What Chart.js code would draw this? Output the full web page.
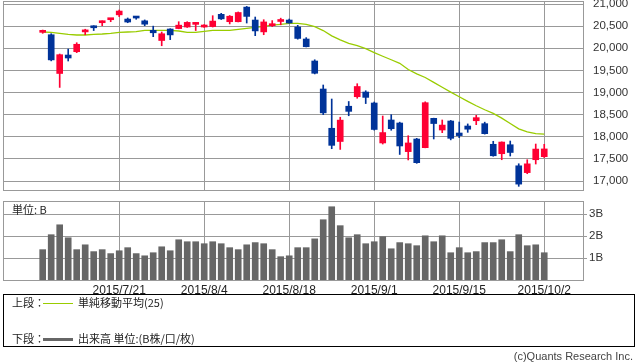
<!DOCTYPE html>
<html>
<head>
<meta charset="utf-8">
<script src="https://cdn.jsdelivr.net/npm/chart.js@4.4.0/dist/chart.umd.min.js"></script>
<style>
body{margin:0;width:638px;height:362px;position:relative;background:#fff;overflow:hidden;font-family:"Noto Sans CJK JP",sans-serif}
canvas{position:absolute;left:0}
#top{top:0}
#bot{top:195px}
.t{position:absolute;font-size:11px;color:#222;white-space:nowrap;line-height:11px}
#legend{position:absolute;left:3px;top:294px;width:632px;height:53px;border:1px solid #000;box-sizing:border-box}
</style>
</head>
<body>
<canvas id="top" width="638" height="195" style="width:638px;height:195px"></canvas>
<canvas id="bot" width="638" height="100" style="width:638px;height:100px"></canvas>
<div class="t" style="left:12px;top:204px">単位: B</div>
<div id="legend"></div>
<div class="t" style="left:12px;top:297px">上段：</div>
<div style="position:absolute;left:43px;top:303px;width:30px;height:1px;background:#9c0"></div>
<div class="t" style="left:78px;top:297px">単純移動平均(25)</div>
<div class="t" style="left:12px;top:333px">下段：</div>
<div style="position:absolute;left:43px;top:338px;width:30px;height:3px;background:#666"></div>
<div class="t" style="left:78px;top:333px">出来高 単位:(B株/口/枚)</div>
<div class="t" style="right:5px;top:351px;color:#444;font-family:'Liberation Sans',sans-serif">(c)Quants Research Inc.</div>
<script>
// 日経平均 日足 2015/7/7 - 2015/10/2
const dates = ['2015/7/7','2015/7/8','2015/7/9','2015/7/10','2015/7/13','2015/7/14','2015/7/15','2015/7/16','2015/7/17','2015/7/21',
  '2015/7/22','2015/7/23','2015/7/24','2015/7/27','2015/7/28','2015/7/29','2015/7/30','2015/7/31','2015/8/3','2015/8/4',
  '2015/8/5','2015/8/6','2015/8/7','2015/8/10','2015/8/11','2015/8/12','2015/8/13','2015/8/14','2015/8/17','2015/8/18',
  '2015/8/19','2015/8/20','2015/8/21','2015/8/24','2015/8/25','2015/8/26','2015/8/27','2015/8/28','2015/8/31','2015/9/1',
  '2015/9/2','2015/9/3','2015/9/4','2015/9/7','2015/9/8','2015/9/9','2015/9/10','2015/9/11','2015/9/14','2015/9/15',
  '2015/9/16','2015/9/17','2015/9/18','2015/9/24','2015/9/25','2015/9/28','2015/9/29','2015/9/30','2015/10/1','2015/10/2'];
const opens = [20360,20306,19430,19847,19922,20370,20487,20577,20645,20755,
  20660,20706,20620,20405,20175,20435,20445,20480,20540,20480,
  20490,20767,20600,20600,20930,20638,20370,20510,20605,20638,
  20480,20209,19712,19079,18192,17893,18690,18905,19011,18763,
  17860,18379,18311,17664,17949,17753,18417,18153,18356,18085,
  18243,18362,18296,17830,17617,17820,17344,17190,17481,17550];
const highs = [20412,20329,19870,19983,20125,20430,20510,20620,20668,20864,
  20684,20715,20640,20500,20367,20442,20600,20600,20580,20535,
  20736,20790,20740,20820,20946,20706,20645,20625,20680,20660,
  20518,20240,19740,19170,18853,18441,18797,19199,19040,18785,
  18469,18499,18330,18024,17965,18790,18420,18379,18370,18333,
  18290,18485,18330,17898,17885,17904,17390,17481,17836,17830];
const lows = [20338,19715,19115,19712,19900,20306,20400,20510,20600,20715,
  20577,20655,20510,20262,20057,20195,20440,20470,20400,20470,
  20480,20650,20550,20595,20570,20284,20306,20490,20530,20565,
  20205,20030,19420,18500,17730,17714,18475,18870,18750,18150,
  17836,18147,17600,17476,17400,17750,17950,18093,17930,17979,
  18100,18273,18060,17560,17481,17565,16880,17165,17384,17530];
const closes = [20376,19737,19855,19780,20090,20385,20463,20600,20650,20841,
  20593,20683,20544,20350,20328,20302,20522,20585,20548,20520,
  20614,20664,20724,20808,20720,20392,20595,20520,20620,20571,
  20222,20035,19435,18540,17806,18376,18574,19136,18890,18165,
  18095,18182,17792,17860,17414,18770,18299,18264,17965,18026,
  18171,18432,18070,17571,17880,17645,16930,17388,17722,17725];
const ma25 = [20367,20360,20337,20315,20300,20300,20315,20322,20337,20360,
  20367,20375,20405,20405,20405,20405,20390,20360,20360,20383,
  20405,20405,20405,20428,20450,20473,20495,20525,20540,20563,
  20563,20540,20490,20400,20280,20190,20110,20060,19990,19900,
  19820,19740,19660,19520,19420,19340,19230,19120,19010,18905,
  18800,18700,18610,18530,18420,18300,18180,18110,18070,18060];
const volumes = [1.38,2.06,2.51,1.92,1.38,1.6,1.29,1.38,1.2,1.33,
  1.47,1.2,1.1,1.24,1.51,1.33,1.83,1.74,1.74,1.65,
  1.74,1.65,1.47,1.38,1.6,1.7,1.65,1.38,1.06,1.1,
  1.47,1.47,1.87,2.74,3.33,2.47,1.92,2.06,1.65,1.74,
  1.97,1.42,1.7,1.65,1.56,2.01,1.74,2.01,1.24,1.47,
  1.24,1.29,1.7,1.7,1.83,1.29,2.06,1.56,1.6,1.24];
const priceTicks = [17000,17500,18000,18500,19000,19500,20000,20500,21000];
const volumeTicks = [1,2,3];
const dateTicks = ['2015/7/21','2015/8/4','2015/8/18','2015/9/1','2015/9/15','2015/10/2'];

const UP = '#f03', DOWN = '#039', GRID = '#999';
const colors = dates.map((d, i) => closes[i] >= opens[i] ? UP : DOWN);
const tickIdx = dateTicks.map(d => dates.indexOf(d));
const xMin = -4.67, xMax = 63.56;

const frame = {
  id: 'frame',
  afterDraw(chart) {
    const a = chart.chartArea, ctx = chart.ctx;
    ctx.save();
    ctx.strokeStyle = GRID;
    ctx.lineWidth = 1;
    ctx.strokeRect(Math.round(a.left) + 0.5, Math.round(a.top) + 0.5, Math.round(a.right - a.left), Math.round(a.bottom - a.top));
    ctx.restore();
  }
};

function xScale(showLabels, h) {
  return {
    type: 'linear', min: xMin, max: xMax, offset: false,
    afterBuildTicks: s => { s.ticks = tickIdx.map(v => ({value: v})); },
    afterFit: s => { s.height = h; s.paddingLeft = 0; s.paddingRight = 0; },
    grid: {color: GRID, drawTicks: false, offset: false},
    border: {display: false},
    ticks: {
      display: showLabels, padding: 3, color: '#222', maxRotation: 0, autoSkip: false,
      font: {family: 'Liberation Sans', size: 12},
      callback: (v, i) => dateTicks[i]
    }
  };
}

Chart.defaults.animation = false;
Chart.defaults.events = [];

new Chart(document.getElementById('top'), {
  type: 'bar',
  data: {
    datasets: [
      {
        type: 'line', order: 3,
        data: dates.map((d, i) => ({x: i, y: ma25[i]})),
        borderColor: '#9c0', borderWidth: 1.3, pointRadius: 0, tension: 0
      },
      {
        order: 2, grouped: false, barThickness: 1,
        data: dates.map((d, i) => ({x: i, y: [lows[i], highs[i]]})),
        backgroundColor: colors
      },
      {
        order: 1, grouped: false, barThickness: 6, minBarLength: 2,
        data: dates.map((d, i) => ({x: i, y: [opens[i], closes[i]]})),
        backgroundColor: colors
      }
    ]
  },
  options: {
    responsive: false,
    layout: {padding: {left: 3, right: 0, top: 1, bottom: 5}},
    plugins: {legend: {display: false}, tooltip: {enabled: false}},
    scales: {
      x: xScale(false, 0),
      y: {
        position: 'right', min: 16797, max: 21068,
        afterBuildTicks: s => { s.ticks = priceTicks.map(v => ({value: v})); },
        afterFit: s => { s.width = 55; s.paddingTop = 0; s.paddingBottom = 0; },
        grid: {color: GRID, drawTicks: false},
        border: {display: false},
        ticks: {
          padding: 10, color: '#333',
          font: {family: 'Liberation Sans', size: 11.5},
          callback: v => v.toLocaleString('en-US')
        }
      }
    }
  },
  plugins: [frame]
});

new Chart(document.getElementById('bot'), {
  type: 'bar',
  data: {
    datasets: [{
      grouped: false, barThickness: 6,
      data: dates.map((d, i) => ({x: i, y: volumes[i]})),
      backgroundColor: '#666'
    }]
  },
  options: {
    responsive: false,
    layout: {padding: {left: 3, right: 0, top: 6, bottom: 0}},
    plugins: {legend: {display: false}, tooltip: {enabled: false}},
    scales: {
      x: xScale(true, 15),
      y: {
        position: 'right', min: 0, max: 79 / 22,
        afterBuildTicks: s => { s.ticks = volumeTicks.map(v => ({value: v})); },
        afterFit: s => { s.width = 55; s.paddingTop = 0; s.paddingBottom = 0; },
        grid: {color: GRID, tickLength: 4},
        border: {display: false},
        ticks: {
          padding: 2, color: '#333',
          font: {family: 'Liberation Sans', size: 11.5},
          callback: v => v + 'B'
        }
      }
    }
  },
  plugins: [frame]
});
</script>
</body>
</html>
